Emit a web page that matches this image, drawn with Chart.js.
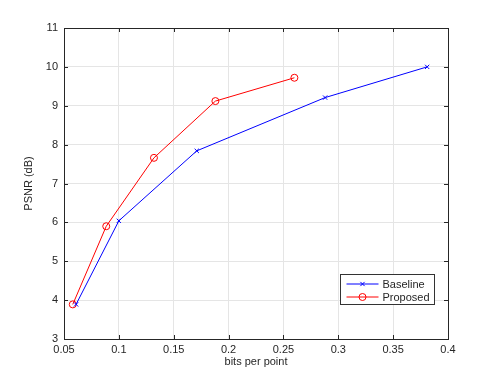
<!DOCTYPE html>
<html>
<head>
<meta charset="utf-8">
<script src="https://cdn.jsdelivr.net/npm/chart.js@4/dist/chart.umd.min.js"></script>
<style>
  html, body { margin: 0; padding: 0; background: #fff; }
  #wrap { width: 495px; height: 381px; }
</style>
</head>
<body>
<div id="wrap"><canvas id="psnrChart"></canvas></div>
<script>
// data
const baselineBpp = [0.061, 0.100, 0.171, 0.288, 0.381];
const baselinePsnr = [3.89, 6.04, 7.84, 9.21, 10.0];
const proposedBpp = [0.058, 0.0885, 0.132, 0.188, 0.260];
const proposedPsnr = [3.89, 5.90, 7.66, 9.12, 9.72];
const xTicks = [0.05, 0.1, 0.15, 0.2, 0.25, 0.3, 0.35, 0.4];
const yTicks = [3, 4, 5, 6, 7, 8, 9, 10, 11];

const FONT = '"Liberation Sans", Arial, sans-serif';
const AXIS_COLOR = '#262626';
const BLUE = 'rgb(0,0,255)';
const RED = 'rgb(255,0,0)';

function toPoints(xs, ys) {
    return xs.map((x, i) => ({ x: x, y: ys[i] }));
}

// box + inward ticks, matlab style
const matlabBox = {
    id: 'matlabBox',
    afterDraw(chart) {
        const { ctx, chartArea: a, scales } = chart;
        ctx.save();
        ctx.strokeStyle = AXIS_COLOR;
        ctx.lineWidth = 1;
        ctx.strokeRect(a.left + 0.5, a.top + 0.5, a.right - a.left, a.bottom - a.top);
        ctx.beginPath();
        xTicks.forEach(v => {
            const px = Math.round(scales.x.getPixelForValue(v)) + 0.5;
            ctx.moveTo(px, a.bottom); ctx.lineTo(px, a.bottom - 4);
            ctx.moveTo(px, a.top); ctx.lineTo(px, a.top + 4);
        });
        yTicks.forEach(v => {
            const py = Math.round(scales.y.getPixelForValue(v)) + 0.5;
            ctx.moveTo(a.left, py); ctx.lineTo(a.left + 4, py);
            ctx.moveTo(a.right, py); ctx.lineTo(a.right - 4, py);
        });
        ctx.stroke();

        // legend box bottom right
        const bx = 340.5, by = 274.5, bw = 94, bh = 30;
        ctx.fillStyle = '#fff';
        ctx.fillRect(bx, by, bw, bh);
        ctx.strokeStyle = '#333';
        ctx.strokeRect(bx, by, bw, bh);
        ctx.font = '11px ' + FONT;
        ctx.textBaseline = 'middle';
        const colors = [BLUE, RED];
        chart.data.datasets.forEach((ds, i) => {
            const y = Math.round(by + 9 + i * 13);
            ctx.strokeStyle = colors[i];
            ctx.fillStyle = 'rgba(0,0,0,0)';
            ctx.lineWidth = 1;
            ctx.beginPath();
            ctx.moveTo(bx + 6, y); ctx.lineTo(bx + 38, y);
            ctx.stroke();
            Chart.helpers.drawPoint(ctx, {
                pointStyle: ds.pointStyle,
                radius: ds.pointRadius,
                borderWidth: 1
            }, bx + 22, y);
            ctx.fillStyle = AXIS_COLOR;
            ctx.fillText(ds.label, bx + 42, y + 0.5);
        });
        ctx.restore();
    }
};

new Chart(document.getElementById('psnrChart'), {
    type: 'scatter',
    data: {
        datasets: [
            {
                label: 'Baseline',
                data: toPoints(baselineBpp, baselinePsnr),
                showLine: true,
                borderColor: BLUE,
                backgroundColor: BLUE,
                borderWidth: 1,
                pointStyle: 'crossRot',
                pointRadius: 3,
                pointBorderWidth: 1
            },
            {
                label: 'Proposed',
                data: toPoints(proposedBpp, proposedPsnr),
                showLine: true,
                borderColor: RED,
                backgroundColor: 'rgba(0,0,0,0)',
                borderWidth: 1,
                pointStyle: 'circle',
                pointRadius: 3.5,
                pointBorderWidth: 1
            }
        ]
    },
    options: {
        responsive: true,
        maintainAspectRatio: false,
        animation: false,
        layout: { padding: { top: 28, right: 47, bottom: 12, left: 22 } },
        plugins: {
            legend: { display: false },
            tooltip: { enabled: false }
        },
        scales: {
            x: {
                type: 'linear',
                min: 0.05,
                max: 0.4,
                afterBuildTicks: scale => { scale.ticks = xTicks.map(v => ({ value: v })); },
                afterFit: scale => { scale.height = 30; },
                grid: { color: '#e5e5e5', drawTicks: false },
                border: { display: false },
                ticks: {
                    color: AXIS_COLOR,
                    font: { family: FONT, size: 11 },
                    padding: 4,
                    maxRotation: 0,
                    callback: v => String(v)
                },
                title: {
                    display: true,
                    text: 'bits per point',
                    color: AXIS_COLOR,
                    font: { family: FONT, size: 11 },
                    padding: { top: 0, bottom: 0 }
                }
            },
            y: {
                type: 'linear',
                min: 3,
                max: 11,
                afterBuildTicks: scale => { scale.ticks = yTicks.map(v => ({ value: v })); },
                afterFit: scale => { scale.width = 42; },
                grid: { color: '#e5e5e5', drawTicks: false },
                border: { display: false },
                ticks: {
                    color: AXIS_COLOR,
                    font: { family: FONT, size: 11 },
                    padding: 6
                },
                title: {
                    display: true,
                    text: 'PSNR (dB)',
                    color: AXIS_COLOR,
                    font: { family: FONT, size: 11 },
                    padding: { top: 0, bottom: 0 }
                }
            }
        }
    },
    plugins: [matlabBox]
});
</script>
</body>
</html>
